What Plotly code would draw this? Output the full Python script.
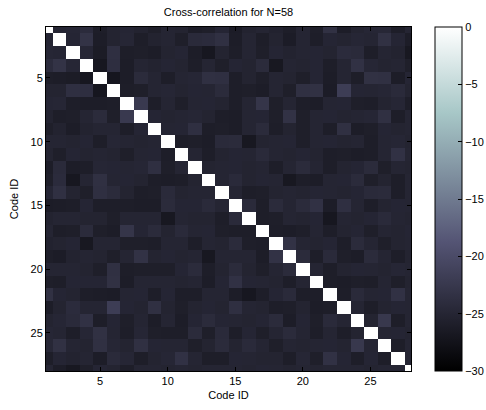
import numpy as np
import plotly.graph_objects as go

# Code identifiers along both axes
code_ids = list(range(1, 29))

# Upper-triangle cross-correlation values (dB); row i holds columns i+1..28
upper_rows = [
    [-25.1, -24.9, -24.2, -26.0, -25.2, -25.0, -25.3, -25.9, -25.1, -25.2, -26.1, -25.9, -25.0, -26.2,
     -25.3, -25.1, -25.4, -26.0, -25.1, -25.9, -23.5, -26.1, -25.2, -24.9, -24.8, -26.0, -25.1],
    [-25.0, -23.2, -26.1, -25.2, -24.9, -26.0, -25.3, -25.1, -25.9, -24.4, -24.2, -23.6, -26.1, -25.1,
     -26.0, -25.2, -26.2, -25.1, -26.0, -25.0, -25.2, -24.9, -25.1, -23.5, -25.0, -26.1],
    [-24.9, -26.3, -23.7, -26.0, -25.9, -26.1, -25.2, -25.0, -26.1, -26.9, -25.2, -26.0, -25.1, -25.9,
     -25.0, -25.3, -25.1, -25.0, -25.2, -24.2, -24.4, -26.0, -25.1, -25.3, -26.8],
    [-26.9, -23.8, -26.1, -25.1, -25.3, -25.0, -25.2, -26.0, -25.1, -25.9, -25.0, -25.2, -24.3, -26.8,
     -25.1, -25.2, -25.0, -26.0, -25.1, -23.4, -24.9, -25.2, -25.1, -25.9],
    [-27.0, -26.1, -24.3, -25.1, -26.0, -25.1, -24.9, -23.6, -23.7, -26.0, -25.2, -25.9, -25.1, -25.2,
     -25.9, -25.0, -26.1, -25.1, -26.0, -23.5, -23.6, -26.1, -25.0],
    [-26.0, -25.9, -25.1, -24.9, -25.2, -25.0, -25.1, -24.3, -26.0, -25.9, -26.1, -25.1, -25.9, -23.6,
     -23.5, -26.2, -21.8, -25.0, -25.1, -24.9, -24.4, -25.2],
    [-22.3, -26.0, -25.1, -25.9, -25.1, -25.0, -25.2, -26.0, -25.1, -22.9, -25.9, -25.1, -26.0, -26.1,
     -25.1, -25.0, -25.9, -26.0, -25.2, -24.9, -26.0],
    [-25.0, -25.2, -25.1, -24.9, -25.2, -26.0, -26.1, -25.1, -25.0, -25.9, -23.3, -25.9, -25.1, -25.0,
     -25.2, -25.1, -24.9, -23.6, -26.0, -25.1],
    [-25.1, -25.0, -23.7, -26.0, -25.9, -26.1, -25.1, -24.3, -26.0, -25.2, -25.9, -25.1, -26.0, -23.6,
     -26.1, -25.9, -25.0, -25.2, -25.1],
    [-26.0, -25.9, -26.1, -24.4, -24.3, -26.8, -25.2, -25.1, -25.0, -25.9, -25.1, -25.0, -25.2, -25.1,
     -26.0, -25.1, -24.9, -25.2],
    [-25.1, -26.0, -25.2, -25.0, -25.1, -24.4, -25.1, -25.2, -25.0, -25.2, -26.0, -25.9, -26.1, -26.0,
     -25.1, -23.4, -25.1],
    [-25.2, -25.1, -25.0, -25.2, -25.1, -26.0, -25.1, -24.3, -25.1, -26.0, -25.2, -25.0, -24.3, -25.9,
     -25.1, -25.2],
    [-25.1, -24.4, -25.2, -25.0, -25.1, -26.8, -26.0, -26.1, -25.1, -25.0, -24.3, -25.9, -25.2, -26.0,
     -25.1],
    [-25.1, -26.0, -25.9, -25.2, -25.1, -25.2, -25.0, -25.1, -25.2, -25.0, -24.4, -24.3, -26.0, -25.1],
    [-24.4, -26.0, -24.3, -25.1, -24.3, -23.4, -26.1, -23.7, -25.1, -26.0, -25.2, -25.0, -25.1],
    [-26.0, -25.9, -25.1, -25.2, -25.0, -26.9, -25.1, -25.2, -25.0, -24.4, -25.1, -25.2],
    [-26.0, -26.1, -25.9, -25.1, -26.0, -25.2, -25.0, -25.9, -25.1, -25.2, -25.0],
    [-23.3, -25.1, -25.2, -25.0, -26.0, -24.3, -25.1, -25.9, -25.2, -25.1],
    [-24.3, -26.0, -24.4, -25.9, -26.1, -24.3, -25.1, -26.0, -25.2],
    [-25.1, -26.0, -25.2, -25.0, -25.1, -25.2, -24.9, -25.1],
    [-26.0, -26.1, -25.9, -26.0, -25.1, -25.9, -25.2],
    [-26.0, -24.4, -25.1, -25.0, -23.4, -25.1],
    [-25.1, -26.0, -25.2, -25.0, -25.1],
    [-25.2, -22.5, -26.0, -25.1],
    [-25.1, -25.0, -25.2],
    [-26.0, -25.1],
    [-25.1],
]

# Autocorrelation peak on the diagonal
diag_value = 0.0

colorbar_ticks = [-30, -25, -20, -15, -10, -5, 0]
axis_ticks = [5, 10, 15, 20, 25]
z_min, z_max = -30, 0

# Assemble the symmetric correlation matrix
n = len(code_ids)
z = np.full((n, n), diag_value)
for i, row in enumerate(upper_rows):
    for k, v in enumerate(row):
        j = i + 1 + k
        z[i, j] = v
        z[j, i] = v

# MATLAB-style "bone" colormap
bone = [
    [0.0, "rgb(0,0,0)"],
    [0.375, "rgb(84,84,116)"],
    [0.75, "rgb(167,199,199)"],
    [1.0, "rgb(255,255,255)"],
]

font = dict(family="Liberation Sans, Arial, sans-serif", size=11, color="black")

# Plot-area geometry (pixels)
W, H = 486, 410
L_M, R_M, T_M, B_M = 46, 75, 27, 39
plot_w = W - L_M - R_M
cbar_left_px = 435
cbar_thick = 27
cbar_x = (cbar_left_px - L_M) / plot_w

fig = go.Figure(
    go.Heatmap(
        x=code_ids,
        y=code_ids,
        z=z,
        zmin=z_min,
        zmax=z_max,
        colorscale=bone,
        colorbar=dict(
            x=cbar_x,
            xanchor="left",
            xpad=0,
            y=0.5,
            yanchor="middle",
            len=1,
            lenmode="fraction",
            ypad=0,
            thickness=cbar_thick,
            thicknessmode="pixels",
            outlinewidth=1,
            outlinecolor="black",
            tickvals=colorbar_ticks,
            ticks="inside",
            ticklen=4,
            tickcolor="black",
            tickfont=font,
        ),
    )
)

# Tick marks on the left edge of the colour bar, mirroring the right-edge ticks
for t in colorbar_ticks[1:-1]:
    yf = (t - z_min) / (z_max - z_min)
    fig.add_shape(
        type="line",
        xref="paper",
        yref="paper",
        x0=cbar_x,
        x1=cbar_x + 4 / plot_w,
        y0=yf,
        y1=yf,
        line=dict(color="black", width=1),
    )

axis_common = dict(
    tickvals=axis_ticks,
    ticks="inside",
    ticklen=4,
    tickcolor="black",
    showline=True,
    linecolor="black",
    linewidth=1,
    mirror="ticks",
    showgrid=False,
    zeroline=False,
    tickfont=font,
)

fig.update_layout(
    width=W,
    height=H,
    margin=dict(l=L_M, r=R_M, t=T_M, b=B_M, autoexpand=False),
    paper_bgcolor="white",
    plot_bgcolor="white",
    font=font,
    title=dict(
        text="Cross-correlation for N=58",
        x=(L_M + W - R_M) / 2 / W,
        xanchor="center",
        xref="container",
        y=1 - 12 / H,
        yanchor="middle",
        yref="container",
        font=font,
    ),
    xaxis=dict(
        range=[1, 28],
        title=dict(text="Code ID", standoff=5, font=font),
        **axis_common,
    ),
    yaxis=dict(
        range=[28, 1],
        title=dict(text="Code ID", standoff=9, font=font),
        **axis_common,
    ),
)

fig.write_html("out.html")
